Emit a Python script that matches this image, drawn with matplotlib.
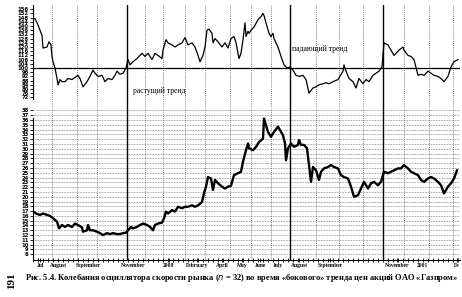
import numpy as np
import matplotlib.pyplot as plt

# - Oscillator of market speed (n = 32)
osc_day = [0, 2, 5, 7, 9, 10, 14, 16, 18, 19, 20, 22, 24, 25, 27, 29, 32, 35, 39, 42,
           45, 47, 50, 54, 57, 60, 62, 65, 69, 72, 75, 79, 82, 84, 87, 90, 93, 95, 97, 100,
           104, 109, 112, 115, 119, 122, 125, 129, 130, 133, 135, 139, 142, 145, 149, 152, 155, 159, 162, 165,
           167, 170, 172, 174, 176, 179, 180, 182, 185, 189, 192, 195, 198, 201, 203, 206, 208, 210, 212, 213,
           215, 216, 218, 221, 225, 228, 230, 231, 233, 236, 238, 240, 241, 245, 248, 251, 254, 257, 260, 263,
           266, 270, 273, 276, 280, 283, 286, 290, 293, 296, 300, 305, 310, 311, 313, 316, 320, 323, 326, 330,
           333, 336, 340, 343, 346, 349, 351, 355, 358, 361, 365, 366, 370, 371, 375, 378, 381, 385, 388, 391,
           395, 398, 401, 405, 408, 411, 415, 418, 421, 425]
osc_val = [147, 147, 141, 136, 131, 119, 120, 125, 122, 111, 106, 100, 90, 84, 89, 87, 87, 90, 89, 91,
           93, 90, 82, 87, 92, 98, 95, 92, 93, 87, 90, 89, 93, 97, 94, 95, 100, 108, 103, 106,
           109, 114, 111, 114, 108, 114, 112, 109, 117, 127, 124, 122, 120, 122, 124, 129, 122, 124, 120, 112,
           106, 112, 120, 136, 137, 133, 124, 128, 125, 120, 124, 119, 128, 130, 124, 109, 114, 127, 143, 130,
           135, 133, 136, 139, 146, 149, 152, 150, 143, 133, 130, 133, 128, 120, 111, 103, 100, 101, 98, 93,
           92, 93, 89, 76, 81, 82, 84, 85, 86, 85, 87, 89, 97, 103, 97, 90, 87, 81, 90, 85,
           89, 87, 93, 95, 97, 101, 124, 122, 117, 112, 116, 117, 120, 117, 112, 111, 108, 93, 94, 93,
           97, 95, 93, 92, 90, 87, 92, 101, 106, 108]

# - Share price
price_day = [0, 4, 7, 10, 14, 17, 20, 24, 26, 29, 32, 35, 39, 42, 45, 49, 50, 54, 55, 57,
             60, 64, 67, 70, 74, 77, 80, 84, 87, 90, 93, 95, 98, 100, 104, 107, 110, 114, 117, 120,
             122, 125, 129, 131, 133, 135, 139, 142, 145, 149, 152, 155, 159, 162, 165, 169, 171, 173, 175, 178,
             180, 182, 185, 189, 192, 195, 198, 201, 205, 208, 210, 213, 215, 216, 220, 223, 226, 230, 231, 233,
             235, 238, 241, 245, 247, 250, 252, 253, 255, 258, 261, 265, 266, 268, 271, 274, 276, 278, 280, 283,
             286, 288, 291, 295, 298, 301, 305, 308, 311, 315, 318, 321, 325, 328, 331, 335, 338, 341, 345, 348,
             351, 355, 358, 361, 365, 368, 371, 375, 378, 381, 385, 388, 391, 395, 398, 401, 405, 408, 411, 415,
             418, 421, 424]
price_val = [16.9, 16.4, 16.2, 16.5, 16.2, 16.0, 15.5, 14.8, 13.4, 14.1, 13.7, 14.1, 13.7, 14.4, 14.1, 13.6, 12.7, 13.0, 14.1, 13.0,
             13.0, 12.7, 12.4, 12.0, 12.4, 12.2, 12.4, 12.2, 12.2, 12.4, 12.5, 13.0, 13.7, 13.4, 13.7, 14.1, 14.4, 14.1, 13.7, 13.0,
             14.1, 14.4, 14.6, 15.5, 16.9, 16.5, 17.2, 16.9, 17.9, 17.6, 17.9, 17.9, 18.2, 17.9, 18.2, 18.9, 20.7, 22.1, 24.1, 23.8,
             21.4, 23.5, 22.8, 22.1, 21.7, 22.1, 22.3, 24.5, 24.9, 25.2, 27.3, 29.7, 31.1, 30.1, 29.7, 30.4, 31.4, 32.1, 36.3, 34.9,
             33.5, 32.5, 33.5, 34.6, 33.9, 32.8, 31.1, 27.6, 30.1, 31.1, 30.4, 30.8, 31.8, 30.8, 30.8, 30.1, 26.6, 23.1, 26.2, 25.5,
             23.5, 25.2, 25.9, 26.2, 26.6, 26.2, 25.9, 24.5, 24.1, 23.8, 22.1, 20.0, 20.3, 21.7, 23.1, 21.7, 22.8, 23.1, 22.4, 23.1,
             25.2, 24.9, 25.2, 25.5, 25.9, 25.9, 26.6, 25.9, 25.2, 24.9, 24.5, 23.5, 23.1, 23.8, 24.1, 23.8, 23.1, 22.4, 20.7, 22.1,
             22.8, 23.8, 25.5]

# - Calendar
month_day = [19, 44, 64, 112, 130, 152, 172, 197, 218, 238, 283, 306, 330, 371, 396, 420]
trend_day = [94, 257, 350]
label_day = [7, 25, 55, 100, 136, 164, 189, 209, 227, 245, 266, 297, 364, 390, 424]
label_txt = ['Jul', 'August', 'September', 'November', '2000', 'February', 'April', 'May',
             'June', 'July', 'August', 'September', 'November', '2001', 'Fe']

serif = 'Liberation Serif'

fig = plt.figure(figsize=(4.62, 2.97), dpi=100)
ax1 = fig.add_axes([33/462, 1 - 108/297, 427/462, 103/297])
ax2 = fig.add_axes([33/462, 1 - 260/297, 427/462, 152/297])

for ax in (ax1, ax2):
    ax.set_xlim(0, 427)
    for s in ('top', 'right'):
        ax.spines[s].set_visible(False)
    for d in month_day:
        ax.axvline(d, color='0.35', lw=0.6, ls=(0, (1, 1.5)), zorder=1)
    for d in trend_day:
        ax.axvline(d, color='black', lw=1.0, zorder=2)

# - Top: oscillator
ax1.plot(osc_day, osc_val, color='black', lw=0.9, zorder=3)
ax1.axhline(100, color='black', lw=0.9, zorder=2)
ax1.set_ylim(61.9, 160)
ax1.set_yticks(np.arange(72, 157, 4))
ax1.spines['bottom'].set_visible(False)
ax1.spines['left'].set_bounds(70, 160)
ax1.set_xticks([])
ax1.tick_params(axis='y', labelsize=3.8, length=2, width=0.6, pad=1)
for t in ax1.get_yticklabels():
    t.set_fontweight('bold')
ax1.text(100, 78, 'растущий тренд', fontsize=5.5, family=serif, ha='left', va='center')
ax1.text(259, 118, 'падающий тренд', fontsize=5.5, family=serif, ha='left', va='center')

# - Bottom: price
ax2.plot(price_day, price_val, color='black', lw=1.7, zorder=3)
ax2.set_ylim(6.8, 38.5)
ax2.set_yticks(np.arange(8, 39, 1))
for v in range(8, 39):
    ax2.axhline(v, color='0.35', lw=0.5, ls=(0, (1, 1.3)), zorder=1)
ax2.spines['left'].set_bounds(6.8, 36.5)
ax2.set_xticks(label_day)
ax2.set_xticklabels(label_txt, fontsize=4, family=serif, fontweight='bold')
ax2.set_xticks(np.arange(0, 428, 5), minor=True)
ax2.tick_params(axis='x', which='both', direction='inout', length=2.5, width=0.6, pad=1)
ax2.tick_params(axis='y', labelsize=3.8, length=2, width=0.6, pad=1)
for t in ax2.get_yticklabels():
    t.set_fontweight('bold')

# - Caption and page number
fig.text(25/462, 1 - 278/297,
         'Рис. 5.4. Колебания осциллятора скорости рынка ($n$ = 32) во время «бокового» тренда цен акций ОАО «Газпром»',
         fontsize=6.05, family=serif, fontweight='bold', ha='left', va='center')
fig.text(12/462, 1 - 281/297, '191', fontsize=8, family=serif, fontweight='bold',
         rotation=90, ha='center', va='center')

plt.savefig('out.png', dpi=100)
